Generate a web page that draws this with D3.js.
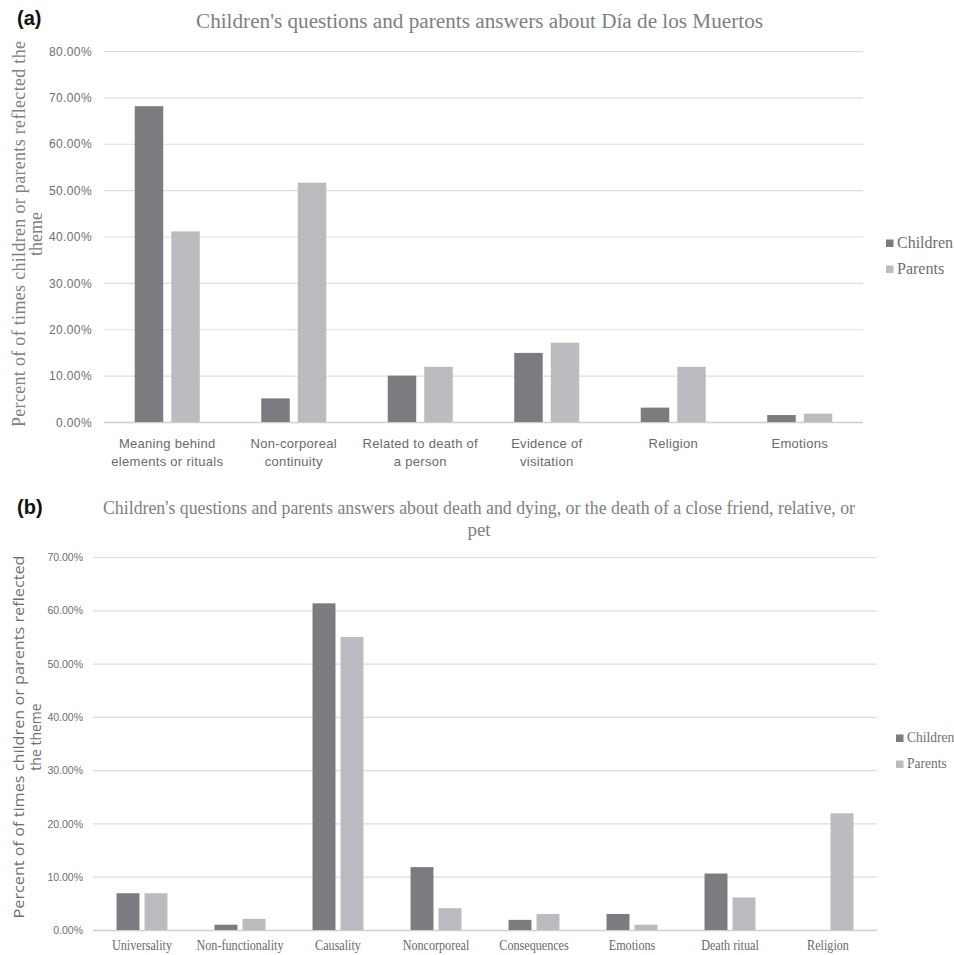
<!DOCTYPE html>
<html>
<head>
<meta charset="utf-8">
<script src="https://cdn.jsdelivr.net/npm/d3@7"></script>
<style>
  html, body { margin: 0; padding: 0; background: #fff; }
  svg { display: block; }
</style>
</head>
<body>
<svg id="fig" width="954" height="955"></svg>
<script>
// ---- Panel (a): Día de los Muertos ----
const themesA = [
  ["Meaning behind", "elements or rituals"],
  ["Non-corporeal", "continuity"],
  ["Related to death of", "a person"],
  ["Evidence of", "visitation"],
  ["Religion"],
  ["Emotions"]
];
const childrenA = [68.1, 5.1, 10.0, 14.9, 3.1, 1.5];
const parentsA  = [41.1, 51.6, 11.9, 17.1, 11.9, 1.8];
const ticksA = [0, 10, 20, 30, 40, 50, 60, 70, 80];

// ---- Panel (b): death and dying ----
const themesB = ["Universality", "Non-functionality", "Causality", "Noncorporeal",
                 "Consequences", "Emotions", "Death ritual", "Religion"];
const childrenB = [6.9, 1.0, 61.3, 11.8, 1.9, 3.0, 10.6, 0];
const parentsB  = [6.9, 2.1, 55.0, 4.1, 3.0, 1.0, 6.1, 21.9];
const ticksB = [0, 10, 20, 30, 40, 50, 60, 70];

const seriesNames = ["Children", "Parents"];
const seriesColors = ["#7b7c80", "#bbbcc0"];
const color = d3.scaleOrdinal(seriesNames, seriesColors);

const svg = d3.select("#fig");
const fmt = d => d.toFixed(2) + "%";

function panel(opt) {
  const g = svg.append("g");
  const x0 = d3.scaleBand().domain(d3.range(opt.n)).range([opt.left, opt.right]);
  const groupW = x0.bandwidth() * opt.groupFrac;
  const x1 = d3.scaleBand().domain(seriesNames).range([0, groupW]).paddingInner(opt.innerPad);
  const y = d3.scaleLinear().domain([0, opt.max]).range([opt.bottom, opt.top]);

  // horizontal gridlines
  g.append("g").selectAll("line").data(opt.ticks).join("line")
    .attr("x1", opt.left).attr("x2", opt.right)
    .attr("y1", d => y(d) + 0.5).attr("y2", d => y(d) + 0.5)
    .attr("stroke", d => d === 0 ? "#cfcfcf" : "#dedede")
    .attr("stroke-width", d => d === 0 ? 1.5 : 1.2);

  // y axis tick labels
  const yAxis = d3.axisLeft(y).tickValues(opt.ticks).tickFormat(fmt).tickSize(0).tickPadding(0);
  const ya = g.append("g").attr("transform", `translate(${opt.tickX},0)`).call(yAxis);
  ya.select(".domain").remove();
  ya.selectAll("text")
    .attr("font-family", "Liberation Sans, Arial, sans-serif")
    .attr("font-size", opt.tickSize).attr("fill", "#6e6e6e")
    .attr("letter-spacing", opt.tickSpacing).attr("dy", "0.35em");

  // bars
  const rows = opt.children.map((c, i) => ({ i, vals: [c, opt.parents[i]] }));
  g.append("g").selectAll("g").data(rows).join("g")
    .attr("transform", d => `translate(${x0(d.i) + (x0.bandwidth() - groupW) / 2},0)`)
    .selectAll("rect").data(d => d.vals.map((v, k) => ({ k: seriesNames[k], v })))
    .join("rect")
    .attr("x", d => x1(d.k)).attr("width", x1.bandwidth())
    .attr("y", d => y(d.v)).attr("height", d => y(0) - y(d.v))
    .attr("fill", d => color(d.k));

  // category labels
  opt.drawLabels(g, x0);

  // titles
  opt.drawTitles(g);

  // legend
  const lg = g.append("g");
  seriesNames.forEach((s, k) => {
    const ly = opt.legendY + k * opt.legendGap;
    lg.append("rect").attr("x", opt.legendX).attr("y", ly - 7.5)
      .attr("width", 7.5).attr("height", 7.5).attr("fill", color(s));
    const t = lg.append("text").attr("x", opt.legendX + 11).attr("y", ly + 0.5)
      .attr("font-family", "Liberation Serif, Times New Roman, serif")
      .attr("font-size", opt.legendSize).attr("fill", "#6e6e6e").text(s);
    if (opt.legendScale) {
      t.attr("transform", `translate(${opt.legendX + 11},0) scale(${opt.legendScale},1) translate(${-(opt.legendX + 11)},0)`);
    }
  });
}

// Panel (a)
panel({
  n: themesA.length, left: 104, right: 863, top: 51, bottom: 422, max: 80,
  ticks: ticksA, children: childrenA, parents: parentsA,
  groupFrac: 0.514, innerPad: 0.22,
  tickX: 92, tickSize: 12, tickSpacing: 0.4,
  legendX: 886, legendY: 247, legendGap: 26, legendSize: 16,
  drawLabels: (g, x0) => {
    const t = g.append("g").selectAll("text").data(themesA).join("text")
      .attr("text-anchor", "middle")
      .attr("font-family", "Liberation Sans, Arial, sans-serif")
      .attr("font-size", 13).attr("fill", "#6a6a6a").attr("letter-spacing", 0.3);
    t.selectAll("tspan").data((d, i) => d.map(line => ({ line, i }))).join("tspan")
      .attr("x", d => x0(d.i) + x0.bandwidth() / 2)
      .attr("y", (d, j) => 448 + j * 18)
      .text(d => d.line);
  },
  drawTitles: g => {
    g.append("text").attr("x", 17).attr("y", 25)
      .attr("font-family", "Liberation Sans, Arial, sans-serif").attr("font-weight", "bold")
      .attr("font-size", 20).attr("fill", "#111").text("(a)");
    g.append("text").attr("x", 479.5).attr("y", 28).attr("text-anchor", "middle")
      .attr("font-family", "Liberation Serif, Times New Roman, serif")
      .attr("font-size", 20).attr("fill", "#808080")
      .attr("textLength", 567).attr("lengthAdjust", "spacingAndGlyphs")
      .text("Children's questions and parents answers about Día de los Muertos");
    const yt = g.append("text").attr("transform", "translate(0,234) rotate(-90)")
      .attr("text-anchor", "middle")
      .attr("font-family", "Liberation Serif, Times New Roman, serif")
      .attr("font-size", 18).attr("fill", "#808080");
    yt.append("tspan").attr("x", 0).attr("y", 25)
      .attr("textLength", 386).attr("lengthAdjust", "spacing")
      .text("Percent of of times children or parents reflected the");
    yt.append("tspan").attr("x", 0).attr("y", 42).text("theme");
  }
});

// Panel (b)
panel({
  n: themesB.length, left: 93, right: 877, top: 557, bottom: 930, max: 70,
  ticks: ticksB, children: childrenB, parents: parentsB,
  groupFrac: 0.52, innerPad: 0.18,
  tickX: 83, tickSize: 10.5, tickSpacing: 0,
  legendX: 896, legendY: 742, legendGap: 26, legendSize: 15, legendScale: 0.9,
  drawLabels: (g, x0) => {
    g.append("g").selectAll("text").data(themesB).join("text")
      .attr("text-anchor", "middle")
      .attr("transform", (d, i) => `translate(${x0(i) + x0.bandwidth() / 2},950) scale(0.81,1)`)
      .attr("font-family", "Liberation Serif, Times New Roman, serif")
      .attr("font-size", 15).attr("fill", "#6a6a6a")
      .text(d => d);
  },
  drawTitles: g => {
    g.append("text").attr("x", 17).attr("y", 514)
      .attr("font-family", "Liberation Sans, Arial, sans-serif").attr("font-weight", "bold")
      .attr("font-size", 20).attr("fill", "#111").text("(b)");
    g.append("text").attr("x", 479).attr("y", 514).attr("text-anchor", "middle")
      .attr("font-family", "Liberation Serif, Times New Roman, serif")
      .attr("font-size", 19).attr("fill", "#808080")
      .attr("textLength", 752).attr("lengthAdjust", "spacingAndGlyphs")
      .text("Children's questions and parents answers about death and dying, or the death of a close friend, relative, or");
    g.append("text").attr("x", 479).attr("y", 536).attr("text-anchor", "middle")
      .attr("font-family", "Liberation Serif, Times New Roman, serif")
      .attr("font-size", 19).attr("fill", "#808080").text("pet");
    const yt = g.append("text").attr("transform", "translate(0,737) rotate(-90)")
      .attr("text-anchor", "middle")
      .attr("font-family", "Open Sans, Liberation Sans, sans-serif")
      .attr("font-size", 14).attr("fill", "#6e6e6e");
    yt.append("tspan").attr("x", 0).attr("y", 24)
      .attr("textLength", 363).attr("lengthAdjust", "spacingAndGlyphs")
      .text("Percent of of times children or parents reflected");
    yt.append("tspan").attr("x", 0).attr("y", 41).text("the theme");
  }
});
</script>
</body>
</html>
